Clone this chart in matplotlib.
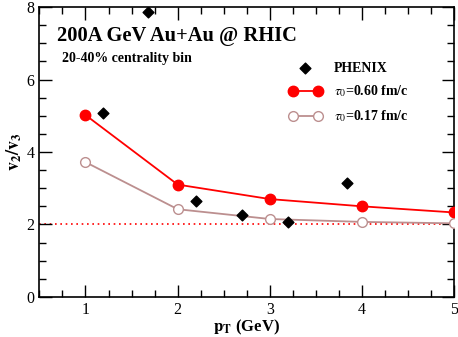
import matplotlib
matplotlib.use('Agg')
import matplotlib.pyplot as plt
from matplotlib.ticker import MultipleLocator

plt.rcParams['font.family'] = 'Liberation Serif'
plt.rcParams['mathtext.fontset'] = 'stix'

# model curves
pt = [1, 2, 3, 4, 5]
ratio_060 = [5.02, 3.10, 2.70, 2.50, 2.33]
ratio_017 = [3.72, 2.42, 2.15, 2.07, 2.03]

# PHENIX data
phenix_pt = [1.19, 1.68, 2.20, 2.70, 3.20, 3.84]
phenix_ratio = [5.07, 7.86, 2.65, 2.26, 2.07, 3.15]

red = '#ff0000'
brown = '#bc8f8f'


def main():
    fig = plt.figure(figsize=(4.58, 3.37), dpi=100)
    ax = fig.add_axes([0.086, 0.119, 0.906, 0.860])

    ax.axhline(2.0, color=red, lw=1.2, ls=(0, (1, 2.2)), zorder=1)

    ax.scatter(phenix_pt, phenix_ratio, marker='D', s=30, color='black',
               zorder=4, label='PHENIX')
    ax.plot(pt, ratio_060, color=red, lw=1.3, marker='o', ms=7.5,
            markerfacecolor=red, markeredgecolor=red, zorder=3,
            label=r'$\tau_0$=0.60 fm/c')
    ax.plot(pt, ratio_017, color=brown, lw=1.3, marker='o', ms=7,
            markerfacecolor='white', markeredgecolor=brown, mew=1.0,
            zorder=3, label=r'$\tau_0$=0.17 fm/c')

    ax.set_xlim(0.5, 5)
    ax.set_ylim(0, 8)
    ax.xaxis.set_major_locator(MultipleLocator(1))
    ax.xaxis.set_minor_locator(MultipleLocator(0.25))
    ax.yaxis.set_major_locator(MultipleLocator(2))
    ax.yaxis.set_minor_locator(MultipleLocator(0.5))
    ax.tick_params(which='both', direction='in', top=True, right=True,
                   labelsize=11.5, width=1)
    ax.tick_params(which='major', length=9)
    ax.tick_params(which='minor', length=5)
    for s in ax.spines.values():
        s.set_linewidth(1.2)

    ax.set_xlabel(r'$\mathbf{p_T}$ (GeV)', fontsize=12, fontweight='bold',
                  labelpad=0)
    ax.set_ylabel(r'$\mathbf{v_2/v_3}$', fontsize=13, labelpad=2)

    ax.text(0.042, 0.883, '200A GeV Au+Au @ RHIC', transform=ax.transAxes,
            fontsize=14.8, fontweight='bold')
    ax.text(0.054, 0.811, '20-40% centrality bin', transform=ax.transAxes,
            fontsize=10, fontweight='bold')

    ax.legend(loc='upper left', bbox_to_anchor=(0.57, 0.855),
              frameon=False, numpoints=2, scatterpoints=1,
              handlelength=2.4, labelspacing=0.65, handletextpad=0.9,
              prop={'size': 10, 'weight': 'bold'})

    fig.savefig('out.png', dpi=100)


main()
